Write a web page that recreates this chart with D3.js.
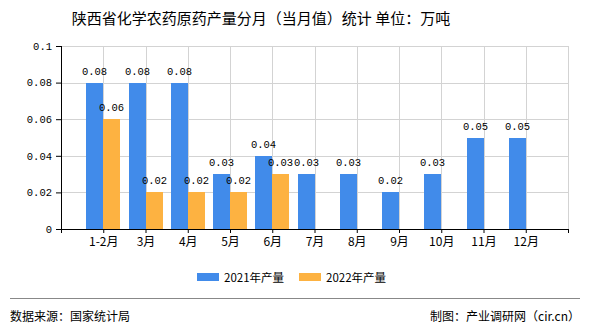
<!DOCTYPE html>
<html><head><meta charset="utf-8">
<script src="https://cdn.jsdelivr.net/npm/d3@7/dist/d3.min.js"></script>
<style>body{margin:0;background:#fff;}svg{display:block;}</style>
</head><body>
<script>
const categories = ["1-2月","3月","4月","5月","6月","7月","8月","9月","10月","11月","12月"];
const series2021 = [0.08,0.08,0.08,0.03,0.04,0.03,0.03,0.02,0.03,0.05,0.05];
const series2022 = [0.06,0.02,0.02,0.02,0.03,null,null,null,null,null,null];
const yTicks = [0,0.02,0.04,0.06,0.08,0.1];
const seriesNames = ["2021年产量","2022年产量"];
const colors = ["#418bea","#fdb241"];

(function(){
const W=590,H=330;
const svg=d3.select("body").append("svg").attr("width",W).attr("height",H);
const pL=61,pR=568,pT=46,pB=229;
const x=d3.scalePoint().domain(["__s",...categories,"__e"]).range([pL,pR]);
const y=d3.scaleLinear().domain([0,0.1]).range([pB,pT]);
const mono="'Liberation Mono','DejaVu Sans Mono',monospace";
const cjk="'Noto Sans CJK SC','Noto Sans',sans-serif";

svg.append("text").attr("x",261).attr("y",24).attr("text-anchor","middle")
  .attr("font-family",cjk).attr("font-size",15).attr("fill","#000")
  .text("陕西省化学农药原药产量分月（当月值）统计 单位：万吨");

// grid
const g=svg.append("g");
g.selectAll(".hg").data(yTicks).join("line")
  .attr("x1",pL).attr("x2",pR).attr("y1",d=>Math.round(y(d))+0.5).attr("y2",d=>Math.round(y(d))+0.5)
  .attr("stroke","#d3d3d3").attr("stroke-width",1);
g.selectAll(".vg").data(x.domain().slice(1)).join("line")
  .attr("x1",d=>Math.round(x(d))+0.5).attr("x2",d=>Math.round(x(d))+0.5).attr("y1",pT).attr("y2",pB)
  .attr("stroke","#d3d3d3").attr("stroke-width",1);

// bars
const bw=17;
const rows=categories.map((c,i)=>({c,v:[series2021[i],series2022[i]]}));
rows.forEach(r=>{
  r.v.forEach((v,k)=>{
    if(v==null) return;
    const x0=Math.round(x(r.c))+(k===0?-bw:0);
    svg.append("rect").attr("x",x0).attr("y",y(v)).attr("width",bw).attr("height",y(0)-y(v))
      .attr("fill",colors[k]).attr("shape-rendering","crispEdges");
    svg.append("text").attr("x",x0+bw/2).attr("y",y(v)-8).attr("text-anchor","middle")
      .attr("font-family",mono).attr("font-size",10.5).attr("fill","#000").text(String(v));
  });
});

// axes
const ya=d3.axisLeft(y).tickValues(yTicks).tickSize(5).tickFormat(d=>String(d));
const yg=svg.append("g").attr("transform",`translate(${pL},0)`).call(ya);
yg.select(".domain").attr("stroke","#000").attr("d",`M0.5,${pT}V${pB}`);
yg.selectAll("text").attr("font-family",mono).attr("font-size",10.5).attr("fill","#000").attr("dx",-1);

const xa=d3.axisBottom(x).tickSize(4).tickFormat(d=>d.startsWith("__")?"":d);
const xg=svg.append("g").attr("transform",`translate(0,${pB})`).call(xa);
xg.select(".domain").attr("stroke","#000").attr("d",`M${pL},0.5H${pR}`);
xg.selectAll("text").attr("font-family",cjk).attr("font-size",12).attr("fill","#000").attr("dy","0.85em");

// legend
const lg=[{x:197,n:seriesNames[0],c:colors[0]},{x:299,n:seriesNames[1],c:colors[1]}];
lg.forEach(l=>{
  svg.append("rect").attr("x",l.x).attr("y",273).attr("width",22).attr("height",8).attr("fill",l.c);
  svg.append("text").attr("x",l.x+27).attr("y",281.5).attr("font-family",cjk).attr("font-size",11.5)
    .attr("fill","#000").text(l.n);
});

// footer
svg.append("line").attr("x1",10).attr("x2",580).attr("y1",298.5).attr("y2",298.5).attr("stroke","#888").attr("stroke-width",1);
svg.append("text").attr("x",10).attr("y",321).attr("font-family",cjk).attr("font-size",12).attr("fill","#000").text("数据来源：国家统计局");
svg.append("text").attr("x",580).attr("y",321).attr("text-anchor","end").attr("font-family",cjk).attr("font-size",12).attr("fill","#000").text("制图：产业调研网（cir.cn）");
})();
</script>
</body></html>
